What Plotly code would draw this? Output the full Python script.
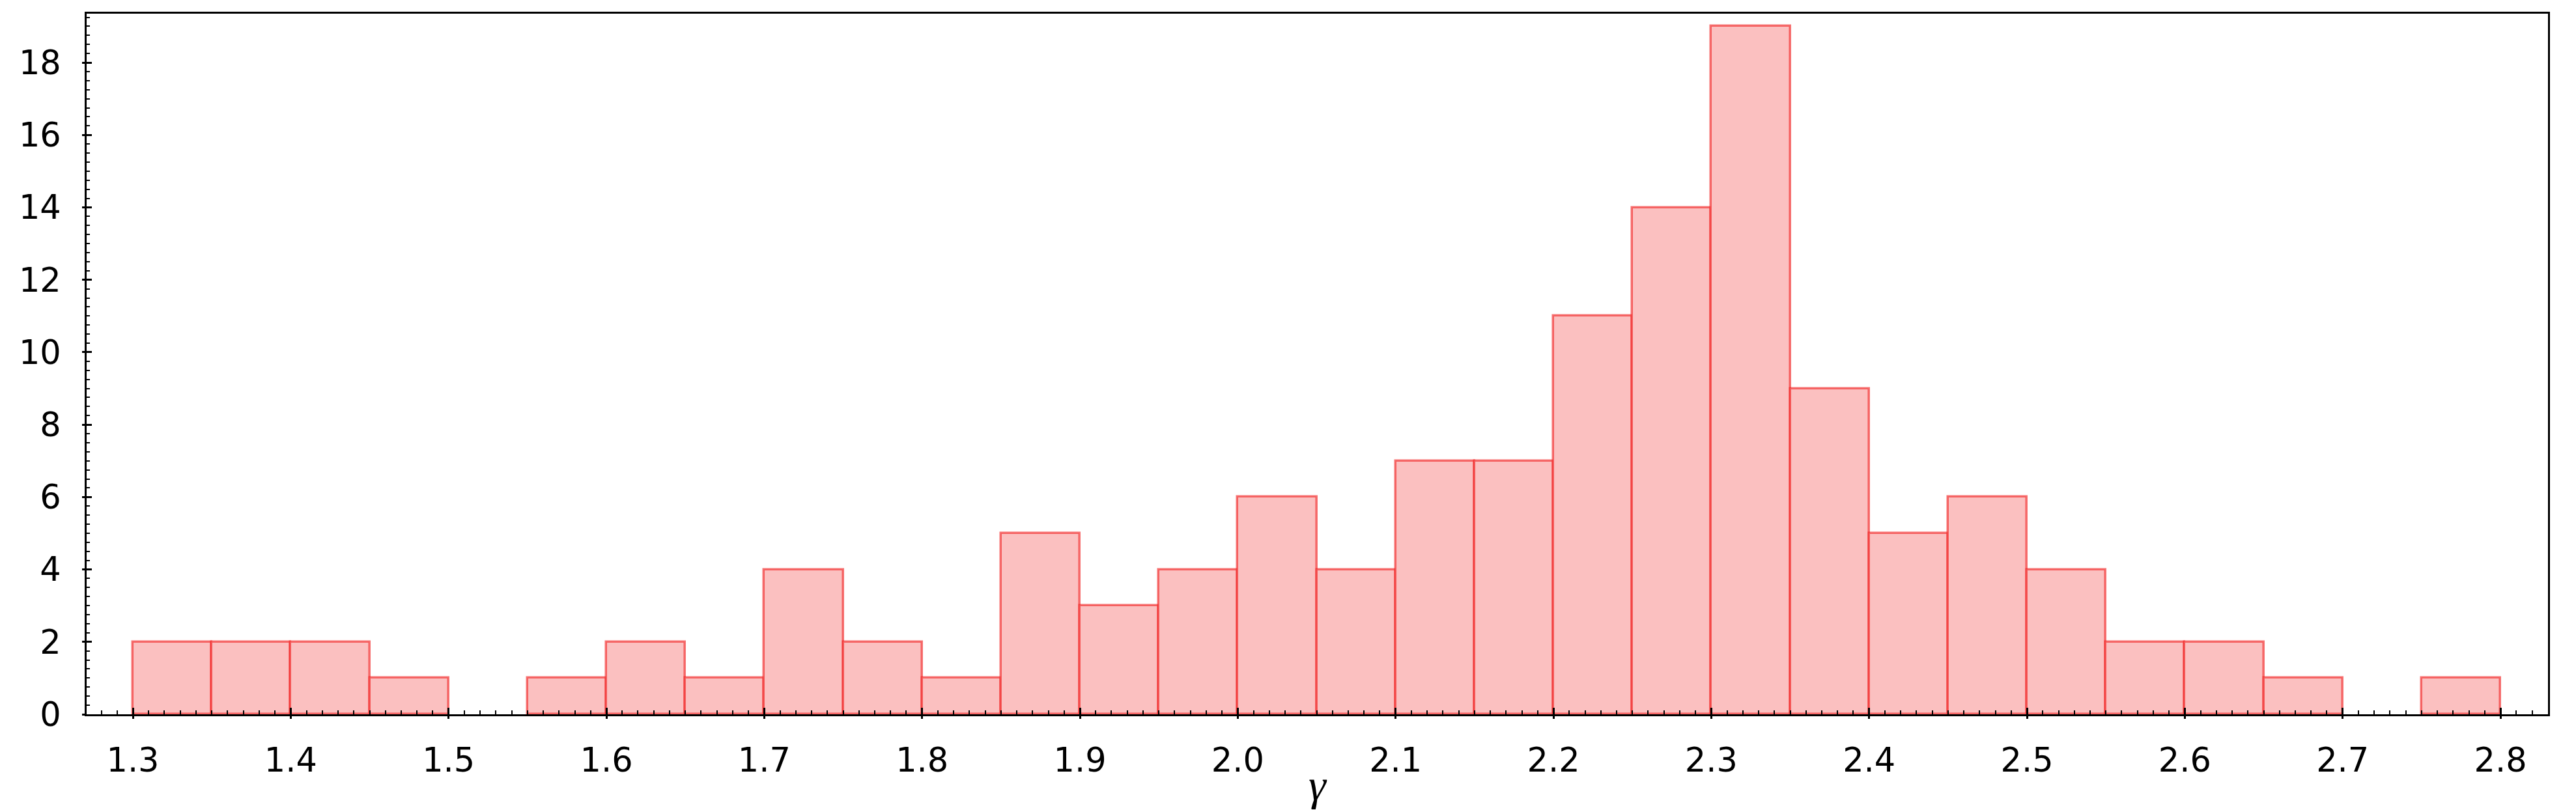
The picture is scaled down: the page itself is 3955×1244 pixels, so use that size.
import plotly.graph_objects as go

bin_left = [1.30, 1.35, 1.40, 1.45, 1.50, 1.55, 1.60, 1.65, 1.70, 1.75,
            1.80, 1.85, 1.90, 1.95, 2.00, 2.05, 2.10, 2.15, 2.20, 2.25,
            2.30, 2.35, 2.40, 2.45, 2.50, 2.55, 2.60, 2.65, 2.70, 2.75]
counts = [2, 2, 2, 1, 0, 1, 2, 1, 4, 2,
          1, 5, 3, 4, 6, 4, 7, 7, 11, 14,
          19, 9, 5, 6, 4, 2, 2, 1, 0, 1]
bin_width = 0.05
x_ticks = [1.3, 1.4, 1.5, 1.6, 1.7, 1.8, 1.9, 2.0, 2.1, 2.2, 2.3, 2.4, 2.5, 2.6, 2.7, 2.8]
y_ticks = [0, 2, 4, 6, 8, 10, 12, 14, 16, 18]

xs = [b + bin_width / 2 for b, c in zip(bin_left, counts) if c > 0]
ys = [c for c in counts if c > 0]

XR = [1.2707, 2.8301]
YR = [0, 19.35]
tick_font = dict(family="DejaVu Sans, sans-serif", size=51, color="black")

fig = go.Figure()
fig.add_trace(go.Bar(
    x=xs, y=ys, width=bin_width,
    marker=dict(color="#fbc0c0", line=dict(color="rgba(240,30,30,0.62)", width=3.5)),
    showlegend=False, xaxis="x", yaxis="y",
))
# invisible trace to activate secondary axes (outward part of major ticks)
fig.add_trace(go.Scatter(x=[None], y=[None], xaxis="x2", yaxis="y2", showlegend=False))

fig.update_layout(
    width=3955, height=1244,
    margin=dict(l=133, r=43, t=21, b=147, autoexpand=False),
    paper_bgcolor="white", plot_bgcolor="white",
    bargap=0,
    xaxis=dict(
        range=XR, tickmode="array", tickvals=x_ticks,
        ticktext=[f"{v:.1f}" for v in x_ticks],
        ticks="inside", ticklen=10, tickwidth=2.5, tickcolor="black",
        minor=dict(dtick=0.01, tick0=1.3, ticks="inside", ticklen=6, tickwidth=2, tickcolor="black"),
        showline=True, linecolor="black", linewidth=3, mirror=True,
        showgrid=False, zeroline=False, automargin=False,
        tickfont=tick_font, ticklabelstandoff=24,
        title=dict(text="<i>γ</i>", font=dict(family="Liberation Serif, serif", size=68, color="black"), standoff=0),
    ),
    yaxis=dict(
        range=YR, tickmode="array", tickvals=y_ticks,
        ticks="inside", ticklen=8, tickwidth=2.5, tickcolor="black",
        minor=dict(dtick=0.25, tick0=0, ticks="inside", ticklen=5, tickwidth=2, tickcolor="black"),
        showline=True, linecolor="black", linewidth=3, mirror=True,
        showgrid=False, zeroline=False, automargin=False,
        tickfont=tick_font, ticklabelstandoff=26,
    ),
    xaxis2=dict(
        range=XR, overlaying="x", anchor="y2", side="bottom", automargin=False,
        tickmode="array", tickvals=x_ticks, ticks="outside", ticklen=6, tickwidth=2.5,
        tickcolor="black", showticklabels=False, showgrid=False, zeroline=False, showline=False,
    ),
    yaxis2=dict(
        range=YR, overlaying="y", anchor="x2", side="left", automargin=False,
        tickmode="array", tickvals=y_ticks, ticks="outside", ticklen=6, tickwidth=2.5,
        tickcolor="black", showticklabels=False, showgrid=False, zeroline=False, showline=False,
    ),
)

fig.write_html("out.html")
